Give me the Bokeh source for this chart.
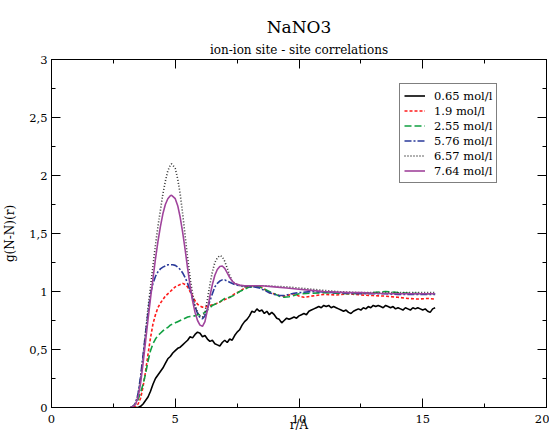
from bokeh.plotting import figure
from bokeh.models import (LinearAxis, Legend, LegendItem, Title, SingleIntervalTicker,
                          CustomJSTickFormatter, Range1d)
from bokeh.embed import file_html
from bokeh.resources import INLINE

# ---- data ----
r_065 = [3.3, 3.5, 3.6, 3.7, 3.8, 3.9, 4.0, 4.1, 4.2, 4.3, 4.4, 4.5, 4.6, 4.7, 4.8, 4.9, 5.0,
         5.1, 5.2, 5.3, 5.4, 5.5, 5.6, 5.7, 5.8, 5.9, 6.0, 6.1, 6.2, 6.3, 6.4, 6.5, 6.6, 6.7,
         6.8, 6.9, 7.0, 7.1, 7.2, 7.3, 7.4, 7.5, 7.6, 7.7, 7.8, 7.9, 8.0, 8.1, 8.2, 8.3, 8.4,
         8.5, 8.6, 8.7, 8.8, 8.9, 9.0, 9.1, 9.2, 9.3, 9.4, 9.5, 9.6, 9.7, 9.8, 9.9, 10.0, 10.1,
         10.2, 10.3, 10.4, 10.5, 10.6, 10.7, 10.8, 10.9, 11.0, 11.1, 11.2, 11.3, 11.4, 11.5,
         11.6, 11.7, 11.8, 11.9, 12.0, 12.1, 12.2, 12.3, 12.4, 12.5, 12.6, 12.7, 12.8, 12.9,
         13.0, 13.1, 13.2, 13.3, 13.4, 13.5, 13.6, 13.7, 13.8, 13.9, 14.0, 14.1, 14.2, 14.3,
         14.4, 14.5, 14.6, 14.7, 14.8, 14.9, 15.0, 15.1, 15.2, 15.3, 15.4, 15.5]
g_065 = [0.0, 0.0, 0.01, 0.03, 0.06, 0.09, 0.14, 0.20, 0.25, 0.28, 0.31, 0.34, 0.38, 0.42, 0.44,
         0.47, 0.49, 0.51, 0.52, 0.54, 0.56, 0.58, 0.61, 0.60, 0.63, 0.65, 0.64, 0.61, 0.62,
         0.59, 0.57, 0.58, 0.55, 0.54, 0.53, 0.56, 0.58, 0.56, 0.59, 0.58, 0.62, 0.65, 0.67,
         0.71, 0.74, 0.76, 0.79, 0.83, 0.82, 0.85, 0.83, 0.84, 0.81, 0.83, 0.80, 0.82, 0.80,
         0.77, 0.76, 0.73, 0.75, 0.77, 0.76, 0.77, 0.78, 0.77, 0.79, 0.80, 0.81, 0.80, 0.83,
         0.84, 0.85, 0.86, 0.87, 0.86, 0.88, 0.87, 0.88, 0.86, 0.87, 0.86, 0.85, 0.84, 0.83,
         0.84, 0.82, 0.81, 0.83, 0.84, 0.85, 0.84, 0.86, 0.85, 0.87, 0.86, 0.88, 0.87, 0.88,
         0.87, 0.86, 0.88, 0.87, 0.86, 0.87, 0.85, 0.86, 0.85, 0.84, 0.86, 0.85, 0.84, 0.86,
         0.85, 0.86, 0.85, 0.84, 0.85, 0.83, 0.82, 0.85, 0.86]

r_19 = [3.3, 3.4, 3.5, 3.6, 3.7, 3.8, 3.9, 4.0, 4.1, 4.2, 4.3, 4.4, 4.5, 4.6, 4.7, 4.8, 4.9,
        5.0, 5.1, 5.2, 5.3, 5.4, 5.5, 5.6, 5.7, 5.8, 5.9, 6.0, 6.1, 6.2, 6.3, 6.4, 6.5, 6.6,
        6.7, 6.8, 6.9, 7.0, 7.2, 7.4, 7.6, 7.8, 8.0, 8.2, 8.4, 8.6, 8.8, 9.0, 9.2, 9.4, 9.6,
        9.8, 10.0, 10.2, 10.5, 11.0, 11.5, 12.0, 12.5, 13.0, 13.5, 14.0, 14.4, 14.8, 15.2, 15.5]
g_19 = [0.0, 0.01, 0.03, 0.08, 0.18, 0.31, 0.46, 0.60, 0.72, 0.80, 0.86, 0.90, 0.93, 0.96,
        0.98, 1.00, 1.02, 1.04, 1.05, 1.06, 1.07, 1.06, 1.04, 1.00, 0.96, 0.92, 0.89, 0.875,
        0.865, 0.865, 0.87, 0.88, 0.885, 0.89, 0.90, 0.91, 0.92, 0.93, 0.95, 0.98, 1.00, 1.03,
        1.05, 1.05, 1.05, 1.02, 0.99, 0.98, 0.965, 0.96, 0.97, 0.98, 0.96, 0.95, 0.96, 0.975,
        0.97, 0.98, 0.97, 0.965, 0.96, 0.95, 0.94, 0.935, 0.94, 0.935]

r_255 = [3.2, 3.3, 3.4, 3.5, 3.6, 3.7, 3.8, 3.9, 4.0, 4.1, 4.2, 4.3, 4.4, 4.5, 4.6, 4.7, 4.8,
         4.9, 5.0, 5.1, 5.2, 5.3, 5.4, 5.5, 5.6, 5.7, 5.8, 5.9, 6.0, 6.1, 6.2, 6.3, 6.4, 6.5,
         6.6, 6.8, 7.0, 7.2, 7.4, 7.6, 7.8, 8.0, 8.2, 8.4, 8.6, 8.8, 9.0, 9.2, 9.4, 9.6, 9.8,
         10.0, 10.5, 11.0, 11.5, 12.0, 12.5, 13.0, 13.5, 14.0, 14.5, 15.0, 15.5]
g_255 = [0.0, 0.01, 0.03, 0.07, 0.13, 0.20, 0.29, 0.40, 0.49, 0.55, 0.59, 0.62, 0.64, 0.66,
         0.68, 0.69, 0.71, 0.72, 0.73, 0.74, 0.75, 0.76, 0.77, 0.78, 0.785, 0.79, 0.79, 0.80,
         0.80, 0.81, 0.82, 0.84, 0.86, 0.88, 0.89, 0.91, 0.94, 0.95, 0.97, 1.00, 1.02, 1.04,
         1.04, 1.04, 1.02, 1.00, 0.98, 0.96, 0.95, 0.955, 0.965, 0.98, 0.985, 0.99, 0.985,
         0.98, 0.985, 0.99, 1.00, 0.99, 0.985, 0.98, 0.98]

r_576 = [3.2, 3.3, 3.4, 3.5, 3.6, 3.7, 3.8, 3.9, 4.0, 4.1, 4.2, 4.3, 4.4, 4.5, 4.6, 4.7, 4.8,
         4.9, 5.0, 5.1, 5.2, 5.3, 5.4, 5.5, 5.6, 5.7, 5.8, 5.9, 6.0, 6.1, 6.2, 6.3, 6.4, 6.5,
         6.6, 6.7, 6.8, 6.9, 7.0, 7.1, 7.2, 7.4, 7.6, 7.8, 8.0, 8.2, 8.4, 8.6, 8.8, 9.0, 9.2,
         9.4, 9.6, 9.8, 10.0, 10.5, 11.0, 11.5, 12.0, 12.5, 13.0, 13.5, 14.0, 14.5, 15.0, 15.5]
g_576 = [0.0, 0.01, 0.04, 0.12, 0.27, 0.45, 0.64, 0.82, 0.98, 1.07, 1.13, 1.17, 1.195, 1.21,
         1.22, 1.23, 1.23, 1.23, 1.225, 1.21, 1.19, 1.16, 1.12, 1.07, 1.01, 0.94, 0.87, 0.81,
         0.775, 0.765, 0.79, 0.85, 0.92, 0.98, 1.04, 1.07, 1.09, 1.10, 1.10, 1.09, 1.08, 1.06,
         1.05, 1.05, 1.04, 1.04, 1.03, 1.01, 0.99, 0.975, 0.965, 0.965, 0.975, 0.985, 0.99,
         1.00, 0.995, 0.99, 0.985, 0.98, 0.98, 0.98, 0.975, 0.975, 0.975, 0.975]

r_657 = [3.2, 3.3, 3.4, 3.5, 3.6, 3.7, 3.8, 3.9, 4.0, 4.1, 4.2, 4.3, 4.4, 4.5, 4.6, 4.7, 4.8,
         4.85, 4.9, 5.0, 5.1, 5.2, 5.3, 5.4, 5.5, 5.6, 5.7, 5.8, 5.9, 6.0, 6.1, 6.2, 6.3, 6.4,
         6.5, 6.6, 6.7, 6.8, 6.9, 7.0, 7.1, 7.2, 7.3, 7.4, 7.6, 7.8, 8.0, 8.5, 9.0, 9.5, 10.0,
         10.5, 11.0, 11.5, 12.0, 12.5, 13.0, 14.0, 15.0, 15.5]
g_657 = [0.0, 0.01, 0.04, 0.11, 0.25, 0.44, 0.65, 0.86, 1.04, 1.22, 1.40, 1.56, 1.70, 1.84,
         1.95, 2.04, 2.09, 2.10, 2.09, 2.06, 1.97, 1.84, 1.67, 1.48, 1.29, 1.12, 0.98, 0.88,
         0.82, 0.79, 0.78, 0.82, 0.93, 1.06, 1.17, 1.25, 1.29, 1.31, 1.30, 1.26, 1.20, 1.14,
         1.09, 1.07, 1.05, 1.04, 1.045, 1.05, 1.045, 1.04, 1.03, 1.02, 1.01, 1.00, 0.995,
         0.99, 0.99, 0.99, 0.99, 0.99]

r_764 = [3.2, 3.3, 3.4, 3.5, 3.6, 3.7, 3.8, 3.9, 4.0, 4.1, 4.2, 4.3, 4.4, 4.5, 4.6, 4.7, 4.8,
         4.85, 4.9, 5.0, 5.1, 5.2, 5.3, 5.4, 5.5, 5.6, 5.7, 5.8, 5.9, 6.0, 6.1, 6.2, 6.3, 6.4,
         6.5, 6.6, 6.7, 6.8, 6.9, 7.0, 7.1, 7.2, 7.3, 7.4, 7.6, 7.8, 8.0, 8.5, 9.0, 9.5, 10.0,
         10.5, 11.0, 11.5, 12.0, 12.5, 13.0, 14.0, 15.0, 15.5]
g_764 = [0.0, 0.01, 0.03, 0.09, 0.21, 0.38, 0.57, 0.76, 0.94, 1.11, 1.28, 1.43, 1.56, 1.67,
         1.75, 1.80, 1.825, 1.83, 1.82, 1.80, 1.74, 1.64, 1.51, 1.36, 1.20, 1.05, 0.92, 0.82,
         0.75, 0.71, 0.70, 0.74, 0.84, 0.96, 1.06, 1.14, 1.19, 1.215, 1.22, 1.20, 1.16, 1.12,
         1.09, 1.07, 1.055, 1.05, 1.05, 1.05, 1.04, 1.03, 1.02, 1.01, 1.00, 0.995, 0.99, 0.99,
         0.985, 0.98, 0.98, 0.98]

labels = ["0.65 mol/l", "1.9 mol/l", "2.55 mol/l", "5.76 mol/l", "6.57 mol/l", "7.64 mol/l"]
xs = [r_065, r_19, r_255, r_576, r_657, r_764]
ys = [g_065, g_19, g_255, g_576, g_657, g_764]
colors = ["#000000", "#ff1a1a", "#10a040", "#2a3a9a", "#333333", "#a0449c"]
dashes = ["solid", "3 2", "7 3", "7 2 2 2", "1 2", "solid"]

FONT = "DejaVu Serif"

p = figure(width=549, height=435, output_backend="svg", toolbar_location=None,
           x_range=Range1d(0, 20), y_range=Range1d(0, 3),
           x_axis_location=None, y_axis_location=None,
           min_border_left=50, min_border_right=3, min_border_top=59, min_border_bottom=28)
p.background_fill_color = "white"
p.border_fill_color = "white"
p.grid.visible = False
p.outline_line_color = "black"
p.outline_line_width = 1

fmt = CustomJSTickFormatter(code="return tick.toString().replace('.', ',');")

def mk_axis(kind, labels_on):
    ticker = SingleIntervalTicker(interval=5 if kind == "x" else 0.5, num_minor_ticks=2)
    ax = LinearAxis(ticker=ticker)
    ax.major_tick_in = 9
    ax.major_tick_out = 0
    ax.minor_tick_in = 4
    ax.minor_tick_out = 0
    ax.axis_line_color = "black"
    ax.major_tick_line_color = "black"
    ax.minor_tick_line_color = "black"
    if labels_on:
        ax.formatter = fmt
        ax.major_label_text_font = FONT
        ax.major_label_text_font_size = "11.5px"
        ax.major_label_text_color = "black"
        ax.axis_label_text_font = FONT
        ax.axis_label_text_font_size = "12px"
        ax.axis_label_text_font_style = "normal"
        ax.axis_label_text_color = "black"
    else:
        ax.major_label_text_color = None
        ax.major_label_text_font_size = "0px"
        ax.major_label_standoff = 0
    return ax

xb = mk_axis("x", True)
xb.axis_label = "r/A"
xb.major_label_standoff = 7
xb.axis_label_standoff = -8
p.add_layout(xb, "below")

yl = mk_axis("y", True)
yl.axis_label = "g(N-N)(r)"
yl.major_label_standoff = 4
yl.axis_label_standoff = 9
p.add_layout(yl, "left")

p.add_layout(mk_axis("x", False), "above")
p.add_layout(mk_axis("y", False), "right")

p.add_layout(Title(text="ion-ion site - site correlations", align="center",
                   text_font=FONT, text_font_size="12px", text_font_style="normal",
                   text_color="black", standoff=5), "above")
p.add_layout(Title(text="NaNO3", align="center",
                   text_font=FONT, text_font_size="17px", text_font_style="normal",
                   text_color="black", standoff=3), "above")

items = []
for x, y, c, d, lab in zip(xs, ys, colors, dashes, labels):
    rr = p.line(x, y, line_color=c, line_width=1.6, line_dash=d)
    items.append(LegendItem(label=lab, renderers=[rr]))

leg = Legend(items=items, location=(348, 224))
leg.border_line_color = "black"
leg.border_line_width = 1
leg.background_fill_color = "white"
leg.background_fill_alpha = 1
leg.label_text_font = FONT
leg.label_text_font_size = "11.5px"
leg.label_text_color = "black"
leg.padding = 4
leg.spacing = 0
leg.margin = 0
leg.glyph_width = 21
leg.glyph_height = 15
leg.label_height = 15
leg.label_standoff = 9
p.add_layout(leg, "center")

open("out.html", "w").write(file_html(p, INLINE))
